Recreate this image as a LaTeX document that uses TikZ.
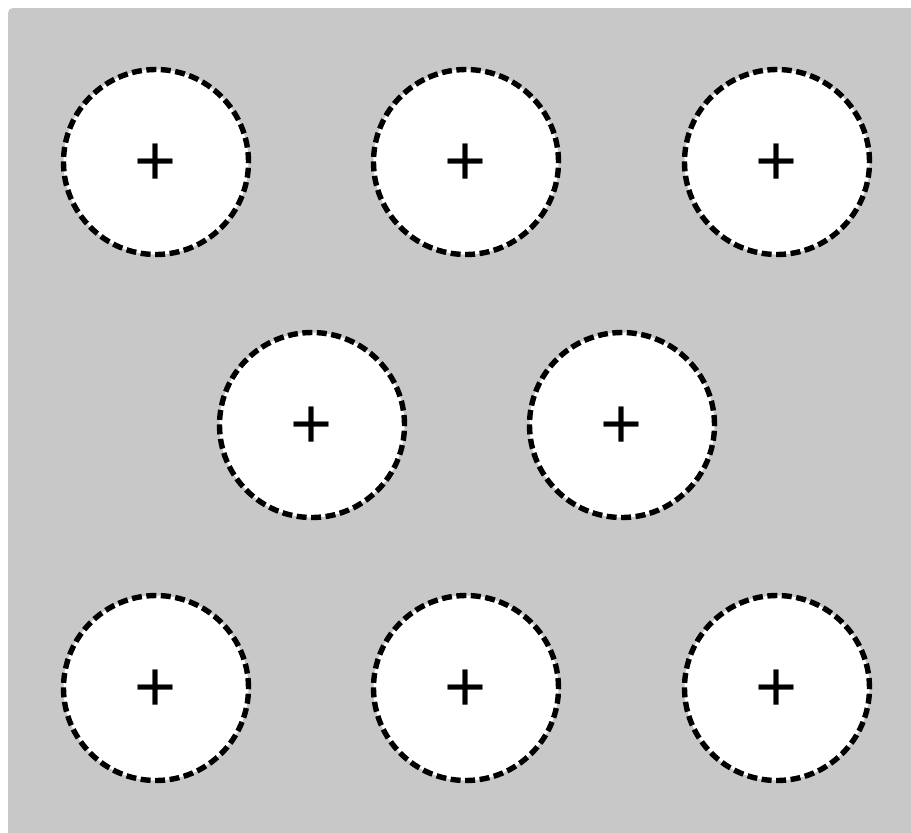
\documentclass[tikz,border=0pt]{standalone}
\usepackage{fontspec}
\setmainfont{Liberation Sans}
\begin{document}
\begin{tikzpicture}[x=1pt,y=-1pt,
  hole/.style={circle,draw=black,fill=white,line width=5.4pt,dash pattern=on 10pt off 4.5pt,minimum size=185pt,inner sep=0pt},
  plus/.style={font=\fontsize{72}{72}\selectfont,inner sep=0pt,yshift=-3pt}]
\useasboundingbox (0,0) rectangle (911,833);
\fill[white] (0,0) rectangle (911,833);
\fill[fill={rgb,255:red,200;green,200;blue,200},rounded corners=5pt] (8,8) rectangle (920,845);
\foreach \n/\x/\y in {a/156/162,b/466/162,c/777/162,d/312/425,e/622/425,f/156/688,g/466/688,h/777/688}{
  \node[hole] (\n) at (\x,\y) {};
  \node[plus] (p\n) at (\n.center) {+};
}
\end{tikzpicture}
\end{document}
